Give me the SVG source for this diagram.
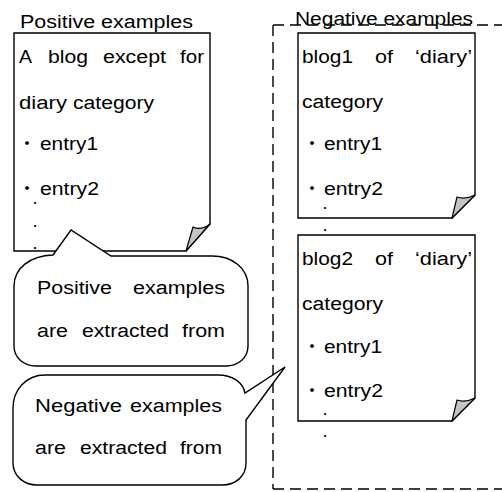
<svg xmlns="http://www.w3.org/2000/svg" width="502" height="492" viewBox="0 0 502 492">
  <style>
    .doc { fill: #ffffff; stroke: #000000; stroke-width: 1.4; stroke-linejoin: miter; }
    .flap { fill: #c4c4c4; stroke: #000000; stroke-width: 1.2; stroke-linejoin: round; }
    .callout { fill: #ffffff; stroke: #000000; stroke-width: 1.4; stroke-linejoin: miter; }
    .frame { fill: none; stroke: #000000; stroke-width: 1.4; stroke-dasharray: 11 6; }
    .t { font-family: "Liberation Sans", Arial, "Noto Sans CJK JP", sans-serif; font-size: 18px; fill: #000000; }
    .b { font-family: "Noto Sans CJK JP", sans-serif; font-size: 18px; fill: #000000; }
    .dot { font-family: "Liberation Sans", Arial, sans-serif; font-size: 13px; font-weight: bold; fill: #000000; text-anchor: middle; }
  </style>

  <!-- dashed frame holding the negative examples -->
  <g id="negative-frame">
    <path class="frame" d="M273,25 H502"/>
    <path class="frame" d="M273,25 V489"/>
    <path class="frame" d="M273,489 H502"/>
    <text class="t" x="295" y="25" textLength="178" lengthAdjust="spacingAndGlyphs">Negative examples</text>
  </g>

  <!-- positive example document -->
  <g id="positive-doc">
    <text class="t" x="20" y="28" textLength="173" lengthAdjust="spacingAndGlyphs">Positive examples</text>
    <path class="doc" d="M14,33 H210 V224 L186,251 H14 Z"/>
    <path class="flap" d="M186,251 L193,227 Q201,231 210,224 Z"/>
    <text class="t" y="63"><tspan x="19" textLength="13" lengthAdjust="spacingAndGlyphs">A</tspan><tspan x="48" textLength="40" lengthAdjust="spacingAndGlyphs">blog</tspan><tspan x="103" textLength="63" lengthAdjust="spacingAndGlyphs">except</tspan><tspan x="180" textLength="24" lengthAdjust="spacingAndGlyphs">for</tspan></text>
    <text class="t" y="109"><tspan x="19" textLength="48" lengthAdjust="spacingAndGlyphs">diary</tspan><tspan x="73" textLength="81" lengthAdjust="spacingAndGlyphs">category</tspan></text>
    <text class="t" y="150"><tspan class="b" x="18">・</tspan><tspan x="40" textLength="58" lengthAdjust="spacingAndGlyphs">entry1</tspan></text>
    <text class="t" y="195"><tspan class="b" x="18">・</tspan><tspan x="40" textLength="59" lengthAdjust="spacingAndGlyphs">entry2</tspan></text>
    <text class="dot" x="35" y="204">.</text>
    <text class="dot" x="35" y="227">.</text>
    <text class="dot" x="35" y="249">.</text>
  </g>

  <!-- negative example documents -->
  <g id="blog1-doc">
    <path class="doc" d="M298,33 H475 V195 L452,218 H298 Z"/>
    <path class="flap" d="M452,218 L457,197 Q465,200 475,195 Z"/>
    <text class="t" y="63"><tspan x="302" textLength="51" lengthAdjust="spacingAndGlyphs">blog1</tspan><tspan x="375" textLength="18" lengthAdjust="spacingAndGlyphs">of</tspan><tspan x="415" textLength="57" lengthAdjust="spacingAndGlyphs">‘diary’</tspan></text>
    <text class="t" x="302" y="108" textLength="81" lengthAdjust="spacingAndGlyphs">category</text>
    <text class="t" y="150"><tspan class="b" x="303">・</tspan><tspan x="324" textLength="58" lengthAdjust="spacingAndGlyphs">entry1</tspan></text>
    <text class="t" y="195"><tspan class="b" x="303">・</tspan><tspan x="324" textLength="59" lengthAdjust="spacingAndGlyphs">entry2</tspan></text>
    <text class="dot" x="325" y="209">.</text>
    <text class="dot" x="325" y="231">.</text>
  </g>

  <g id="blog2-doc">
    <path class="doc" d="M298,235 H475 V398 L452,421 H298 Z"/>
    <path class="flap" d="M452,421 L457,400 Q465,403 475,398 Z"/>
    <text class="t" y="265"><tspan x="302" textLength="51" lengthAdjust="spacingAndGlyphs">blog2</tspan><tspan x="375" textLength="18" lengthAdjust="spacingAndGlyphs">of</tspan><tspan x="415" textLength="57" lengthAdjust="spacingAndGlyphs">‘diary’</tspan></text>
    <text class="t" x="302" y="310" textLength="81" lengthAdjust="spacingAndGlyphs">category</text>
    <text class="t" y="353"><tspan class="b" x="303">・</tspan><tspan x="324" textLength="58" lengthAdjust="spacingAndGlyphs">entry1</tspan></text>
    <text class="t" y="397"><tspan class="b" x="303">・</tspan><tspan x="324" textLength="59" lengthAdjust="spacingAndGlyphs">entry2</tspan></text>
    <text class="dot" x="325" y="415">.</text>
    <text class="dot" x="325" y="437">.</text>
  </g>

  <!-- speech-bubble callouts pointing at their sources -->
  <g id="connectors">
    <g id="positive-callout">
      <path class="callout" d="M14,286 C14,268 30,256 53,255 L71,230 L111,256 H212 C232,256 248,268 248,286 V346 C248,358 238,366 226,366 H36 C24,366 14,358 14,346 Z"/>
      <text class="t" y="294"><tspan x="37" textLength="75" lengthAdjust="spacingAndGlyphs">Positive</tspan><tspan x="133" textLength="92" lengthAdjust="spacingAndGlyphs">examples</tspan></text>
      <text class="t" y="337"><tspan x="37" textLength="31" lengthAdjust="spacingAndGlyphs">are</tspan><tspan x="82" textLength="87" lengthAdjust="spacingAndGlyphs">extracted</tspan><tspan x="182" textLength="43" lengthAdjust="spacingAndGlyphs">from</tspan></text>
    </g>
    <g id="negative-callout">
      <path class="callout" d="M13,408 C13,390 26,375 45,375 H218 C232,375 243,382 245,393 L285,367 L246,420 V463 C246,476 236,485 222,485 H37 C24,485 13,476 13,463 Z"/>
      <text class="t" y="412"><tspan x="35" textLength="87" lengthAdjust="spacingAndGlyphs">Negative</tspan><tspan x="130" textLength="92" lengthAdjust="spacingAndGlyphs">examples</tspan></text>
      <text class="t" y="454"><tspan x="35" textLength="31" lengthAdjust="spacingAndGlyphs">are</tspan><tspan x="80" textLength="87" lengthAdjust="spacingAndGlyphs">extracted</tspan><tspan x="180" textLength="42" lengthAdjust="spacingAndGlyphs">from</tspan></text>
    </g>
  </g>
</svg>
